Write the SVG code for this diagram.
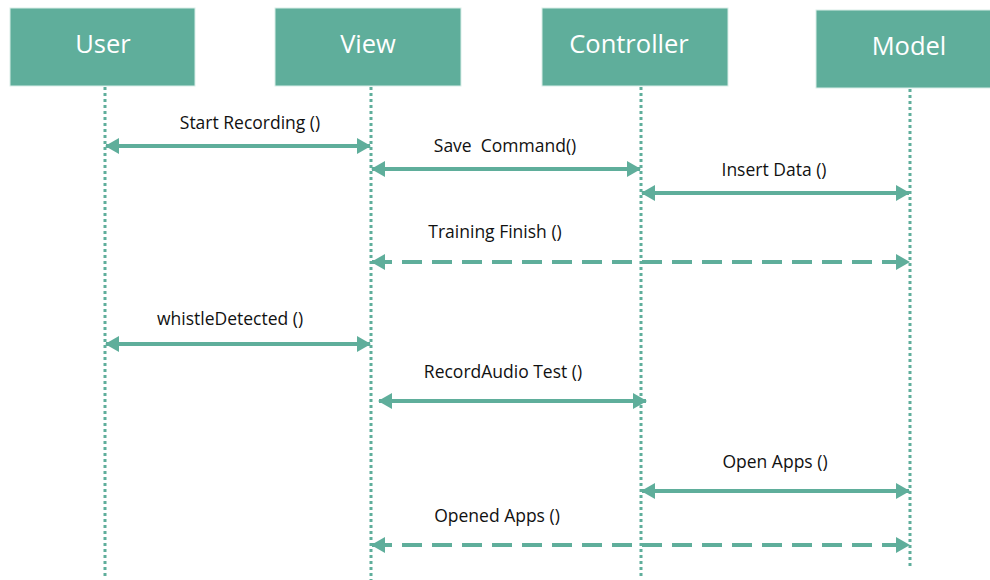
<svg xmlns="http://www.w3.org/2000/svg" width="990" height="580" viewBox="0 0 990 580">
<style>
.box{fill:#5FAE9B;stroke:#D9EEE8;stroke-width:1}
.hdr{fill:#FFFFFF;font-family:"Open Sans","Liberation Sans",sans-serif;font-size:25.5px;text-anchor:middle}
.life{stroke:#5FAE9B;stroke-width:3;stroke-dasharray:3 3;fill:none}
.msg{stroke:#5FAE9B;stroke-width:4;fill:none;marker-start:url(#ah);marker-end:url(#ah)}
.dash{stroke-dasharray:20 10}
.lbl{fill:#111;font-family:"Open Sans","Liberation Sans",sans-serif;font-size:17.5px;text-anchor:middle}
</style>
<defs>
<marker id="ah" viewBox="0 0 14 16" refX="13" refY="8" markerWidth="14" markerHeight="16" markerUnits="userSpaceOnUse" orient="auto-start-reverse">
<path d="M0,0 L14,8 L0,16 Z" fill="#5FAE9B"/>
</marker>
</defs>
<rect width="990" height="580" fill="#FFFFFF"/>
<g id="lifelines">
<line class="life" x1="105" y1="87" x2="105" y2="578"/>
<line class="life" x1="371" y1="87" x2="371" y2="580"/>
<line class="life" x1="641" y1="87" x2="641" y2="578"/>
<line class="life" x1="910" y1="89" x2="910" y2="568"/>
</g>
<g id="user"><rect class="box" x="10" y="8" width="185" height="78"/><text class="hdr" x="103" y="53">User</text></g>
<g id="view"><rect class="box" x="275" y="8" width="186" height="78"/><text class="hdr" x="368" y="53">View</text></g>
<g id="controller"><rect class="box" x="542" y="8" width="186" height="78"/><text class="hdr" x="629" y="53">Controller</text></g>
<g id="model"><rect class="box" x="816" y="10" width="176" height="78"/><text class="hdr" x="909" y="55">Model</text></g>
<g id="connectors">
<line class="msg" x1="106" y1="146" x2="370" y2="146"/>
<line class="msg" x1="372" y1="169" x2="640" y2="169"/>
<line class="msg" x1="642" y1="193" x2="909" y2="193"/>
<line class="msg dash" x1="372" y1="262" x2="909" y2="262"/>
<line class="msg" x1="106" y1="344" x2="370" y2="344"/>
<line class="msg" x1="379" y1="401" x2="646" y2="401"/>
<line class="msg" x1="642" y1="491" x2="909" y2="491"/>
<line class="msg dash" x1="372" y1="545" x2="909" y2="545"/>
</g>
<g id="labels">
<text class="lbl" x="250" y="129">Start Recording ()</text>
<text class="lbl" x="505" y="152" xml:space="preserve">Save  Command()</text>
<text class="lbl" x="774" y="176">Insert Data ()</text>
<text class="lbl" x="495" y="238">Training Finish ()</text>
<text class="lbl" x="230" y="325">whistleDetected ()</text>
<text class="lbl" x="503" y="378">RecordAudio Test ()</text>
<text class="lbl" x="775" y="468">Open Apps ()</text>
<text class="lbl" x="497" y="522">Opened Apps ()</text>
</g>
</svg>
